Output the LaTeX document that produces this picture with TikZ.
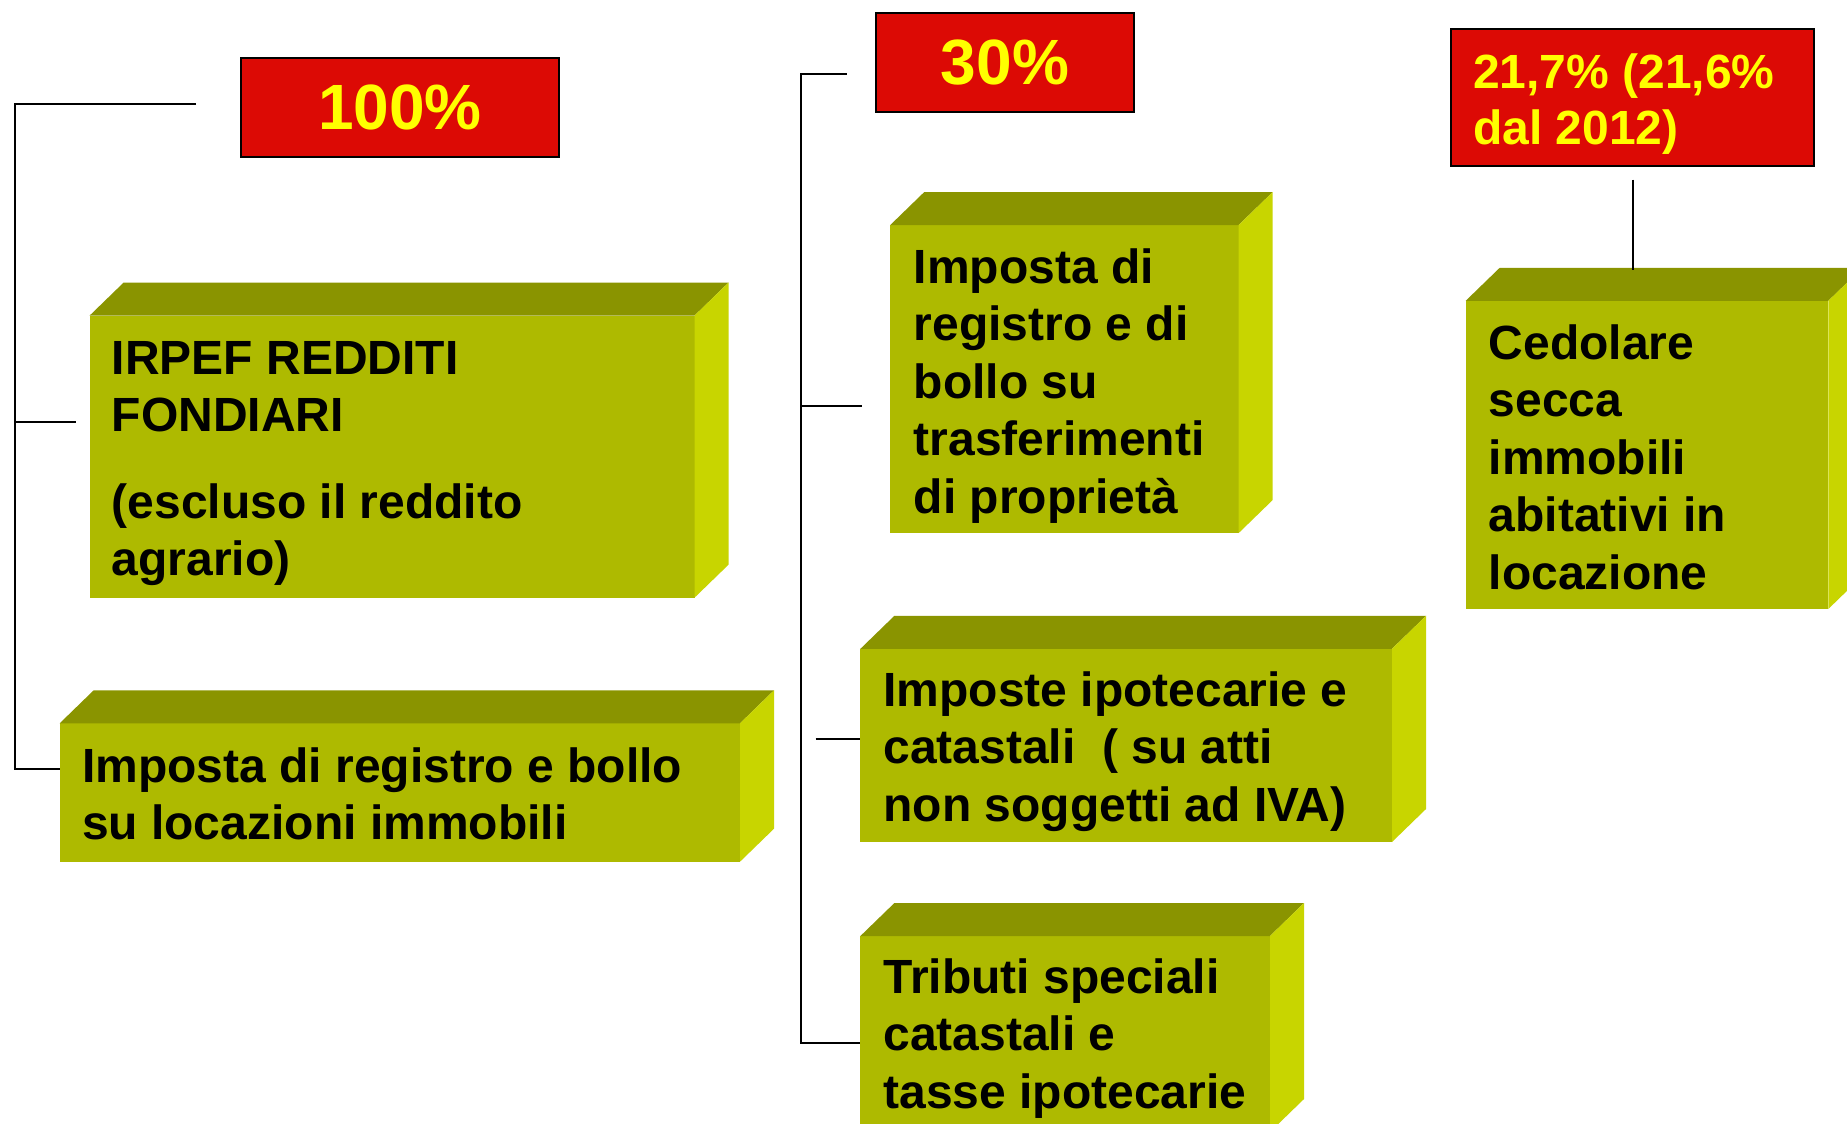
\documentclass[tikz,border=0pt]{standalone}
\usepackage{fontspec}
\setmainfont{Liberation Sans}
\definecolor{redbox}{RGB}{220,10,5}
\definecolor{yel}{RGB}{255,255,0}
\definecolor{topc}{RGB}{138,148,0}
\definecolor{frontc}{RGB}{174,186,0}
\definecolor{sidec}{RGB}{200,213,0}
\newcommand{\cubebox}[5]{%
  \node[frontface, anchor=north west, minimum width={(#4-#2)*0.5pt}, minimum height={(#5-#3)*0.5pt}] (#1) at (#2,#3) {};
  \fill[topc] (#1.north west) -- ++(34,-33) -- ([shift={(34,-33)}]#1.north east) -- (#1.north east) -- cycle;
  \fill[sidec] (#1.north east) -- ++(34,-33) -- ([shift={(34,-33)}]#1.south east) -- (#1.south east) -- cycle;
}
\tikzset{
  frontface/.style={rectangle, fill=frontc, inner sep=0pt, outer sep=0pt},
  redlabel/.style={rectangle, fill=redbox, draw=black, line width=0.9pt, inner sep=0pt, outer sep=0pt, anchor=north west},
  bigtext/.style={text=yel, font=\bfseries\fontsize{32}{36}\selectfont, inner sep=0pt},
  redtext/.style={text=yel, font=\bfseries\fontsize{24}{28}\selectfont, align=left, inner sep=0pt, anchor=north west},
  boxtext/.style={text=black, font=\bfseries\fontsize{24}{28.75}\selectfont, align=left, inner sep=0pt, anchor=north west},
  conn/.style={draw=black, line width=1pt}
}
\begin{document}
\begin{tikzpicture}[x=0.5pt, y=-0.5pt]
\useasboundingbox (0,0) rectangle (1847,1124);
\fill[white] (0,0) rectangle (1847,1124);

% red labels
\node[redlabel, minimum width=159pt, minimum height=49.5pt] (r1) at (241,58) {};
\node[bigtext] (t1) at (r1.center) {100\%};
\node[redlabel, minimum width=129pt, minimum height=49.5pt] (r2) at (876,13) {};
\node[bigtext] (t2) at (r2.center) {30\%};
\node[redlabel, minimum width=181.5pt, minimum height=68.5pt] (r3) at (1451,29) {};
\node[redtext] (t3) at (1472.7,47.8) {\rule{0pt}{20pt}21,7\% (21,6\%\\dal 2012)};

% boxes
\cubebox{bA}{89.7}{315.5}{694.6}{597.6}
\cubebox{bB}{59.7}{723.3}{740}{861.7}
\cubebox{bC}{890.3}{225}{1238.7}{533}
\cubebox{bD}{860.4}{648.8}{1392}{842}
\cubebox{bE}{860.4}{936}{1270}{1132}
\cubebox{bF}{1465.7}{300.8}{1828.3}{609}

\node[boxtext] (tA) at (111.5,334) {\rule{0pt}{20pt}IRPEF REDDITI\\FONDIARI\\[14.5pt](escluso il reddito\\agrario)};
\node[boxtext] (tB) at (81.6,741.7) {\rule{0pt}{20pt}Imposta di registro e bollo\\su locazioni immobili};
\node[boxtext] (tC) at (913.3,243) {\rule{0pt}{20pt}Imposta di\\registro e di\\bollo su\\trasferimenti\\di propriet\`a};
\node[boxtext] (tD) at (883,665.7) {\rule{0pt}{20pt}Imposte ipotecarie e\\catastali\ \ ( su atti\\non soggetti ad IVA)};
\node[boxtext] (tE) at (883,953) {\rule{0pt}{20pt}Tributi speciali\\catastali e\\tasse ipotecarie};
\node[boxtext] (tF) at (1488.3,319) {\rule{0pt}{20pt}Cedolare\\secca\\immobili\\abitativi in\\locazione};

% connectors
\coordinate (L1) at (196,104.3);
\coordinate (L2) at (76,421.5);
\coordinate (Lc) at (14.5,104.3);
\coordinate (Lm) at (14.5,421.5);
\coordinate (Lb) at (14.5,769.3);
\draw[conn] (L1) -- (Lc) -- (Lb) -- (Lb -| bB.west);
\draw[conn] (Lm) -- (L2);

\coordinate (M1) at (846.7,74.3);
\coordinate (Mt) at (801,74.3);
\coordinate (Mb) at (801,1042.8);
\coordinate (Mc) at (801,406.4);
\coordinate (M2) at (862,406.4);
\coordinate (Md) at (815.7,739.4);
\draw[conn] (M1) -- (Mt) -- (Mb) -- (Mb -| bE.west);
\draw[conn] (Mc) -- (M2);
\draw[conn] (Md) -- (Md -| bD.west);

\coordinate (R1) at (1632.7,179.6);
\coordinate (R2) at (1632.7,270);
\draw[conn] (R1) -- (R2);
\end{tikzpicture}
\end{document}
